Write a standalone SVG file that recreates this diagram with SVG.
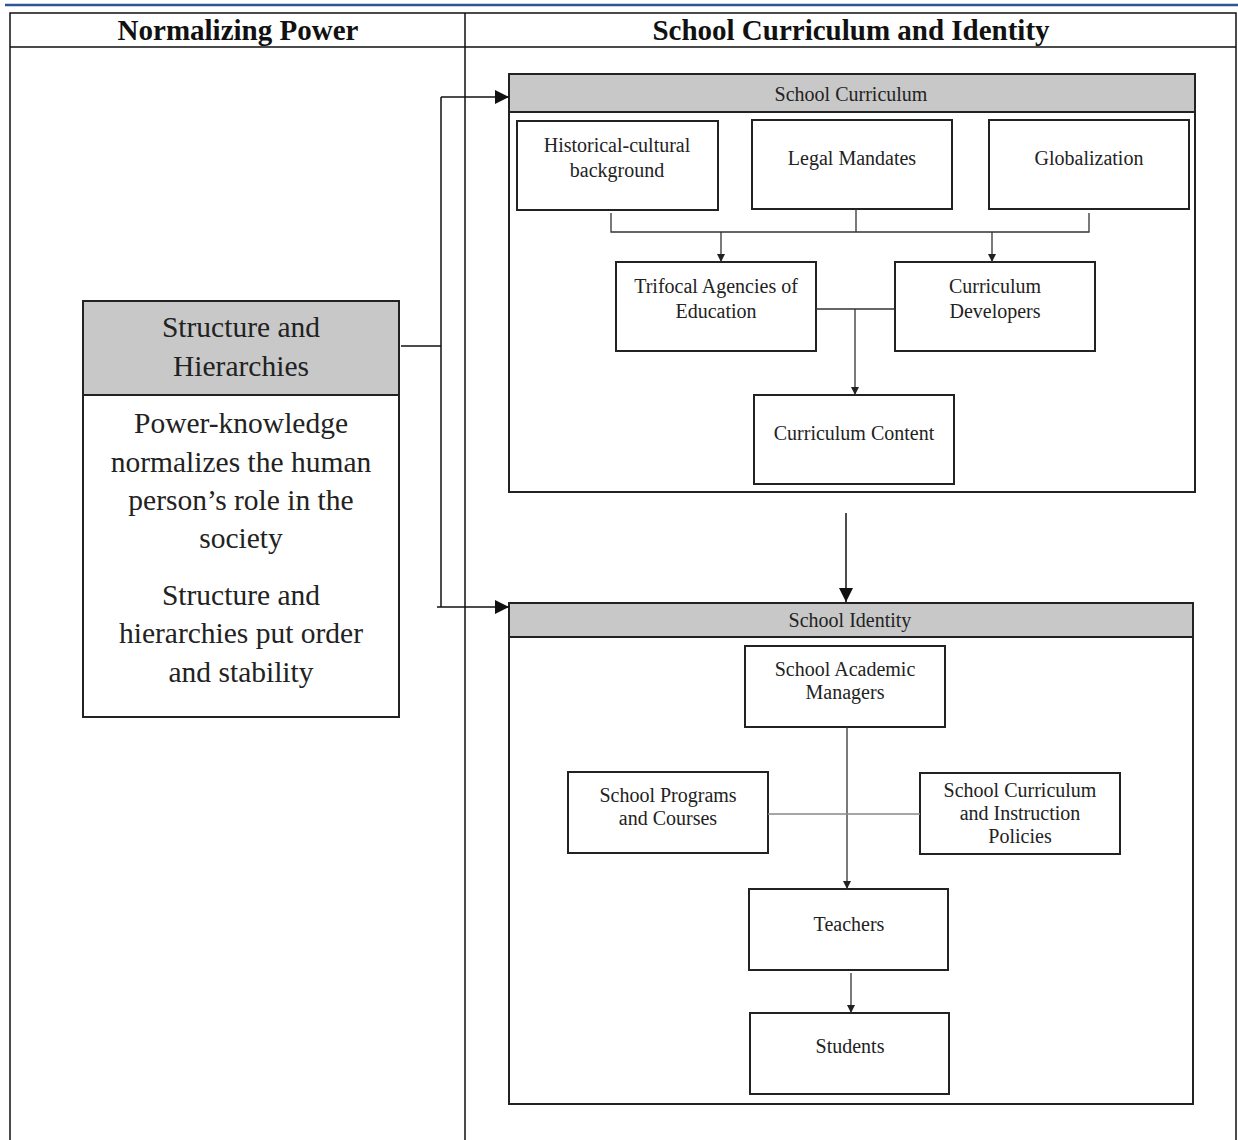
<svg xmlns="http://www.w3.org/2000/svg" width="1238" height="1140" viewBox="0 0 1238 1140">
<style>
.t{font-family:"Liberation Serif","Times New Roman",serif;fill:#222;text-anchor:middle}
.h{font-size:29px;font-weight:bold;fill:#111}
.s{font-size:20px}
.l{font-size:29.5px}
.box{fill:#fff;stroke:#222;stroke-width:2}
.hdr{fill:#c8c8c8;stroke:#222;stroke-width:2}
.grid{stroke:#111;stroke-width:1.5;fill:none}
.c{stroke:#333;stroke-width:1.3;fill:none}
.cg{stroke:#888;stroke-width:1.6;fill:none}
</style>
<defs>
<marker id="a" viewBox="0 0 10 10" refX="10" refY="5" markerWidth="8" markerHeight="8" markerUnits="userSpaceOnUse" orient="auto"><path d="M0,0L10,5L0,10z" fill="#222"/></marker>
<marker id="ab" viewBox="0 0 10 10" refX="10" refY="5" markerWidth="14" markerHeight="14" markerUnits="userSpaceOnUse" orient="auto"><path d="M0,0L10,5L0,10z" fill="#111"/></marker>
</defs>
<rect width="1238" height="1140" fill="#fff"/>
<g id="table">
<line x1="5" y1="5" x2="1238" y2="5" stroke="#2f5597" stroke-width="2.5"/>
<path class="grid" d="M10,1140V13H1236V1140M10,47H1236M465,13V1140"/>
<text class="t h" x="238" y="40">Normalizing Power</text>
<text class="t h" x="851" y="40">School Curriculum and Identity</text>
</g>
<g id="structure">
<rect class="box" x="83" y="301" width="316" height="416"/>
<rect class="hdr" x="83" y="301" width="316" height="94"/>
<text class="t l" x="241" y="337">Structure and</text>
<text class="t l" x="241" y="376">Hierarchies</text>
<text class="t l" x="241" y="433">Power-knowledge</text>
<text class="t l" x="241" y="472">normalizes the human</text>
<text class="t l" x="241" y="510">person’s role in the</text>
<text class="t l" x="241" y="548">society</text>
<text class="t l" x="241" y="605">Structure and</text>
<text class="t l" x="241" y="643">hierarchies put order</text>
<text class="t l" x="241" y="682">and stability</text>
</g>
<g id="curriculum">
<rect class="box" x="509" y="74" width="686" height="418"/>
<rect class="hdr" x="509" y="74" width="686" height="38"/>
<text class="t s" x="851" y="101">School Curriculum</text>
</g>
<g id="historical">
<rect class="box" x="517" y="121" width="201" height="89"/>
<text class="t s" x="617" y="152">Historical-cultural</text>
<text class="t s" x="617" y="177">background</text>
</g>
<g id="legal">
<rect class="box" x="752" y="120" width="200" height="89"/>
<text class="t s" x="852" y="165">Legal Mandates</text>
</g>
<g id="globalization">
<rect class="box" x="989" y="120" width="200" height="89"/>
<text class="t s" x="1089" y="165">Globalization</text>
</g>
<g id="trifocal">
<rect class="box" x="616" y="262" width="200" height="89"/>
<text class="t s" x="716" y="293">Trifocal Agencies of</text>
<text class="t s" x="716" y="318">Education</text>
</g>
<g id="developers">
<rect class="box" x="895" y="262" width="200" height="89"/>
<text class="t s" x="995" y="293">Curriculum</text>
<text class="t s" x="995" y="318">Developers</text>
</g>
<g id="content">
<rect class="box" x="754" y="395" width="200" height="89"/>
<text class="t s" x="854" y="440">Curriculum Content</text>
</g>
<g id="identity">
<rect class="box" x="509" y="603" width="684" height="501"/>
<rect class="hdr" x="509" y="603" width="684" height="34"/>
<text class="t s" x="850" y="627">School Identity</text>
</g>
<g id="managers">
<rect class="box" x="745" y="646" width="200" height="81"/>
<text class="t s" x="845" y="676">School Academic</text>
<text class="t s" x="845" y="699">Managers</text>
</g>
<g id="programs">
<rect class="box" x="568" y="772" width="200" height="81"/>
<text class="t s" x="668" y="802">School Programs</text>
<text class="t s" x="668" y="825">and Courses</text>
</g>
<g id="policies">
<rect class="box" x="920" y="773" width="200" height="81"/>
<text class="t s" x="1020" y="797">School Curriculum</text>
<text class="t s" x="1020" y="820">and Instruction</text>
<text class="t s" x="1020" y="843">Policies</text>
</g>
<g id="teachers">
<rect class="box" x="749" y="889" width="199" height="81"/>
<text class="t s" x="849" y="931">Teachers</text>
</g>
<g id="students">
<rect class="box" x="750" y="1013" width="199" height="81"/>
<text class="t s" x="850" y="1053">Students</text>
</g>
<g id="connectors">
<path class="grid" d="M401,346H441"/>
<path class="grid" d="M441,97V607"/>
<path class="grid" d="M441,97H509" marker-end="url(#ab)"/>
<path class="grid" d="M437,607H509" marker-end="url(#ab)"/>
<path class="c" d="M611,213V232H1089V213M856,209V232"/>
<path class="c" d="M721,232V262" marker-end="url(#a)"/>
<path class="c" d="M992,232V262" marker-end="url(#a)"/>
<path class="c" d="M816,309H895"/>
<path class="c" d="M855,309V395" marker-end="url(#a)"/>
<path class="grid" d="M846,513V602" marker-end="url(#ab)"/>
<path class="c" d="M847,727V889" marker-end="url(#a)"/>
<path class="cg" d="M768,814H920"/>
<path class="c" d="M851,973V1013" marker-end="url(#a)"/>
</g>
</svg>
